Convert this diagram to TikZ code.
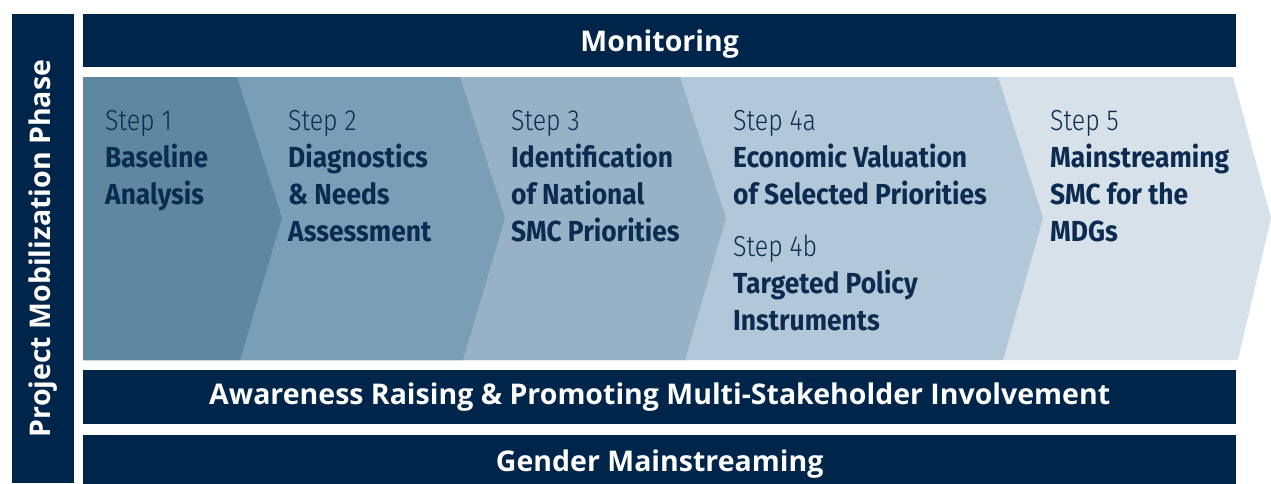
\documentclass[tikz,border=0pt]{standalone}
\usepackage{fontspec}
\setmainfont{Open Sans}
\newfontfamily\steplight[FakeStretch=0.86]{Fira Sans Light}
\newfontfamily\stepbold[FakeStretch=0.91]{Fira Sans Bold}
\usetikzlibrary{positioning}

\definecolor{navy}{HTML}{00254A}
\definecolor{stepnavy}{HTML}{0B2B50}
\definecolor{stepone}{HTML}{5D88A0}
\definecolor{steptwo}{HTML}{7A9EB5}
\definecolor{stepthree}{HTML}{97B2C7}
\definecolor{stepfour}{HTML}{B2C7D7}
\definecolor{stepfive}{HTML}{D7E1E9}

\begin{document}
\begin{tikzpicture}[
    x=1pt, y=-1pt,
    bar/.style={fill=navy, text=white, inner sep=0pt, anchor=north west, font={\bfseries\fontsize{28.5}{32}\selectfont}},
    steptext/.style={anchor=north west, align=left, inner sep=0pt, text=stepnavy, font={\stepbold\fontsize{29}{37}\selectfont}}
]
\useasboundingbox (0,0) rectangle (1271,483);

% Bars
\node[bar, anchor=center, rotate=90, minimum width=469pt, minimum height=62pt] (phase) at (43,248.5) {Project Mobilization Phase};
\node[bar, text depth=0pt, minimum width=1153pt, minimum height=53pt] (monitoring) at (83,14) {Monitoring};
\node[bar, minimum width=1153pt, minimum height=54pt] (awareness) at (83,370) {Awareness Raising \& Promoting Multi-Stakeholder Involvement};
\node[bar, text depth=0pt, minimum width=1153pt, minimum height=50pt] (gender) at (83,435) {Gender Mainstreaming};

% Chevrons
\fill[stepfive] (83,77) -- (1233,77) -- (1271,218) -- (1238,360) -- (83,360) -- cycle;
\fill[stepfour] (83,77) -- (998,77) -- (1043,218) -- (1003,360) -- (83,360) -- cycle;
\fill[stepthree] (83,77) -- (680,77) -- (726,218) -- (685,360) -- (83,360) -- cycle;
\fill[steptwo] (83,77) -- (460,77) -- (505,218) -- (463,360) -- (83,360) -- cycle;
\fill[stepone] (83,77) -- (237,77) -- (282,218) -- (240,360) -- (83,360) -- cycle;

% Step texts
\node[steptext] (step1) at (105,110) {{\steplight Step 1}\\Baseline\\Analysis};
\node[steptext] (step2) at (288,110) {{\steplight Step 2}\\Diagnostics\\\& Needs\\Assessment};
\node[steptext] (step3) at (511,110) {{\steplight Step 3}\\Identification\\of National\\SMC Priorities};
\node[steptext] (step4a) at (733,110) {{\steplight Step 4a}\\Economic Valuation\\of Selected Priorities};
\node[steptext] (step4b) at (733,235) {{\steplight Step 4b}\\Targeted Policy\\Instruments};
\node[steptext] (step5) at (1050,110) {{\steplight Step 5}\\Mainstreaming\\SMC for the\\MDGs};

\end{tikzpicture}
\end{document}
